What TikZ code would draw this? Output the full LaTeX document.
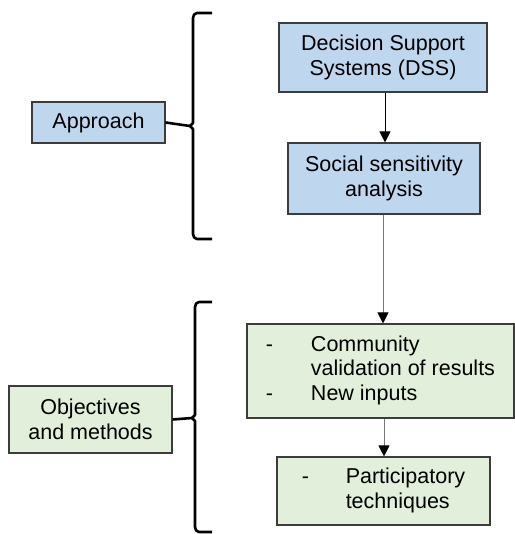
\documentclass[tikz,border=0pt]{standalone}
\usepackage{fontspec}
\setmainfont{Liberation Sans}
\usetikzlibrary{arrows.meta}
\definecolor{boxblue}{RGB}{191,215,238}
\definecolor{boxgreen}{RGB}{226,239,218}
\definecolor{boxline}{RGB}{60,60,60}
\definecolor{flowgray}{RGB}{120,120,120}
\begin{document}
\begin{tikzpicture}[x=1pt,y=-1pt,
  every node/.style={font=\fontsize{21.5}{24.5}\selectfont, inner sep=0pt},
  box/.style={draw=boxline, line width=1.1pt, align=center},
  bluebox/.style={box, fill=boxblue},
  greenbox/.style={box, fill=boxgreen},
  brace/.style={line width=2.6pt, line join=round},
  flow/.style={line width=1pt, -{Triangle[width=11pt,length=11pt]}},
  flowg/.style={flow, draw=flowgray, arrows={-{Triangle[width=11pt,length=11pt,color=black]}}}
]
\useasboundingbox (0,0) rectangle (514,534);

% top group: approach
\node[bluebox, minimum width=208pt, minimum height=69pt] (dss) at (383,57.5)
  {Decision Support\\Systems (DSS)};
\node[bluebox, minimum width=192pt, minimum height=71pt] (ssa) at (384,178.5)
  {Social sensitivity\\analysis};
\node[bluebox, minimum width=133pt, minimum height=41pt] (appr) at (98.5,122.5)
  {Approach};

% bottom group: objectives and methods
\node[greenbox, minimum width=267pt, minimum height=94pt] (comm) at (380.5,371)
  {\begin{tabular}{@{}p{45pt}@{}l@{}}
   - & Community\\
     & validation of results\\
   - & New inputs
   \end{tabular}};
\node[greenbox, minimum width=213pt, minimum height=68pt] (part) at (383.5,491)
  {\begin{tabular}{@{}p{44pt}@{}l@{}}
   - & Participatory\\
     & techniques
   \end{tabular}};
\node[greenbox, minimum width=163pt, minimum height=67pt] (obj) at (90.5,419.5)
  {Objectives\\and methods};

% braces
\coordinate (b1tip) at (190,126);
\coordinate (b2tip) at (192,418);
\draw[brace] (212,13) -- (197,13) to[out=180,in=90] (193,18) -- (193,123) -- (b1tip)
  -- (193,129) -- (193,234) to[out=-90,in=180] (197,239) -- (212,239);
\draw[brace] (appr.east) -- (b1tip);
\draw[brace] (212,302) -- (199,302) to[out=180,in=90] (195,307) -- (195,415) -- (b2tip)
  -- (195,421) -- (195,527) to[out=-90,in=180] (199,532) -- (212,532);
\draw[brace] (obj.east) -- (b2tip);

% flow arrows
\draw[flow] (dss.south -| 385,0) -- (ssa.north -| 385,0);
\draw[flowg] (ssa.south -| 383,0) -- (comm.north -| 383,0);
\draw[flowg] (comm.south -| 384,0) -- (part.north -| 384,0);
\end{tikzpicture}
\end{document}
